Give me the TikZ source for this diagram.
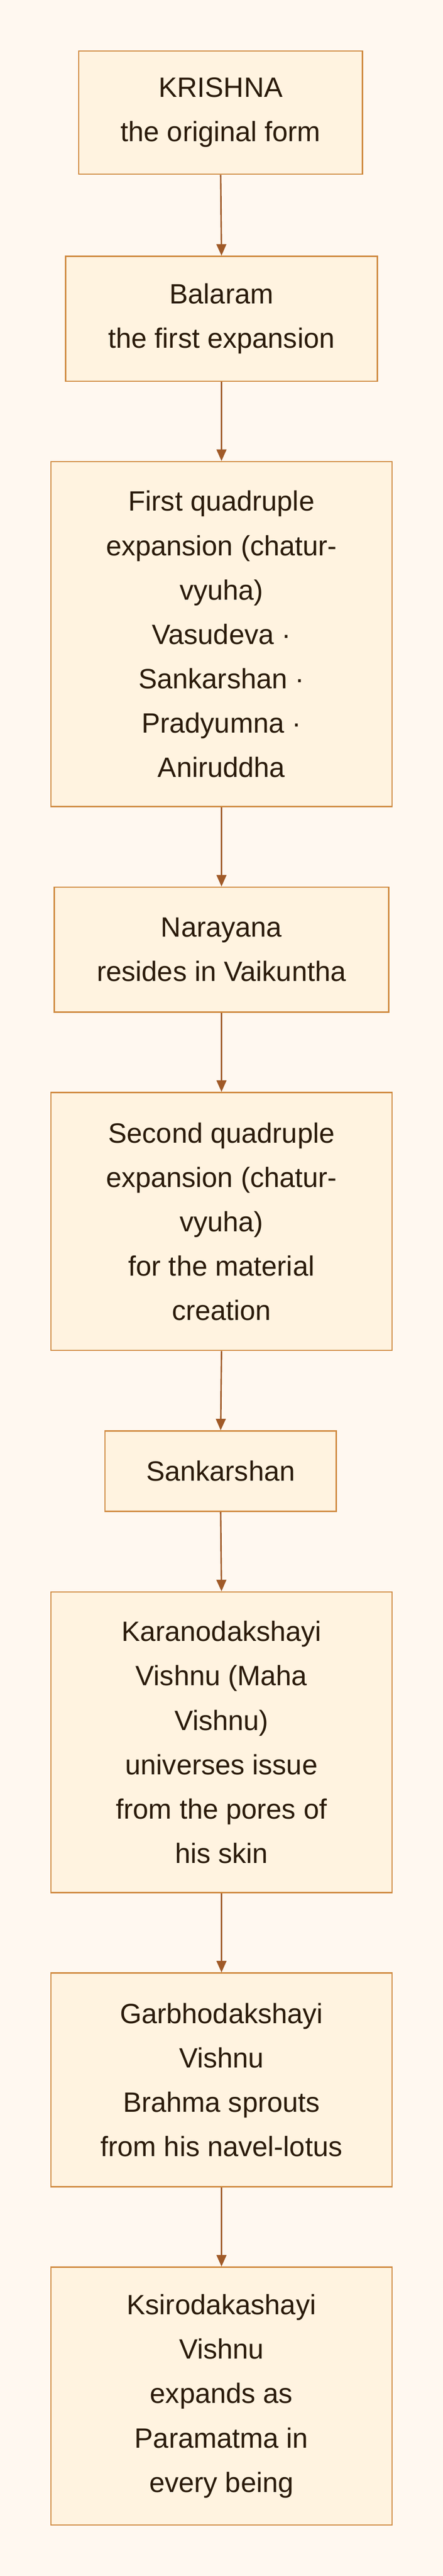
\documentclass[tikz,border=0pt]{standalone}
\usepackage{fontspec}
\setmainfont{Liberation Sans}
\usetikzlibrary{arrows.meta}
\definecolor{bg}{HTML}{FFF8F0}
\definecolor{boxfill}{HTML}{FFF3E0}
\definecolor{boxline}{HTML}{D08A40}
\definecolor{arr}{HTML}{A05A28}
\definecolor{txt}{HTML}{2A1A0A}
\tikzset{
 box/.style={draw=boxline,fill=boxfill,line width=0.8pt,align=center,inner sep=0pt,
   text=txt,font=\fontsize{17}{27}\selectfont},
 link/.style={draw=arr,line width=0.9pt,-{Triangle[length=7pt,width=6pt]}}
}
\begin{document}
\begin{tikzpicture}[x=1pt,y=-1pt]
\useasboundingbox[fill=bg] (0,0) rectangle (270,1568);
\node[box,minimum width=173pt,minimum height=75pt] (n1) at (134.5,68.5) {KRISHNA\\the original form};
\node[box,minimum width=190pt,minimum height=76pt] (n2) at (135,194) {Balaram\\the first expansion};
\node[box,minimum width=208pt,minimum height=210pt] (n3) at (135,386) {First quadruple\\expansion (chatur-\\vyuha)\\Vasudeva ·\\Sankarshan ·\\Pradyumna ·\\Aniruddha};
\node[box,minimum width=204pt,minimum height=76pt] (n4) at (135,578) {Narayana\\resides in Vaikuntha};
\node[box,minimum width=208pt,minimum height=157pt] (n5) at (135,743.5) {Second quadruple\\expansion (chatur-\\vyuha)\\for the material\\creation};
\node[box,minimum width=141pt,minimum height=49pt] (n6) at (134.5,895.5) {Sankarshan};
\node[box,minimum width=208pt,minimum height=183pt] (n7) at (135,1060.5) {Karanodakshayi\\Vishnu (Maha\\Vishnu)\\universes issue\\from the pores of\\his skin};
\node[box,minimum width=208pt,minimum height=130pt] (n8) at (135,1266) {Garbhodakshayi\\Vishnu\\Brahma sprouts\\from his navel-lotus};
\node[box,minimum width=208pt,minimum height=157pt] (n9) at (135,1458.5) {Ksirodakashayi\\Vishnu\\expands as\\Paramatma in\\every being};
\foreach \a/\b in {n1/n2,n2/n3,n3/n4,n4/n5,n5/n6,n6/n7,n7/n8,n8/n9}
  \draw[link] (\a.south) -- (\b.north);
\end{tikzpicture}
\end{document}
